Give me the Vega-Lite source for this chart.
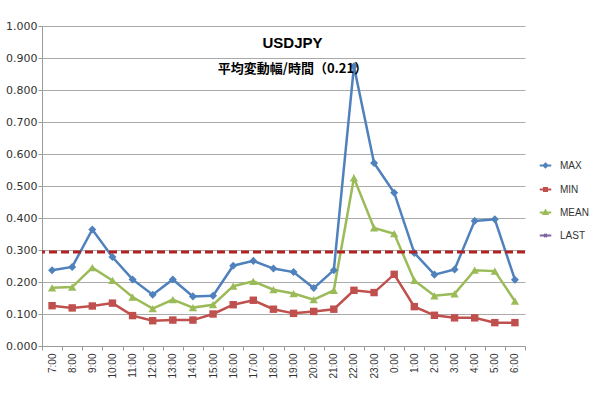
{
  "$schema": "https://vega.github.io/schema/vega-lite/v6.json",
  "width": 483,
  "height": 320,
  "autosize": "none",
  "padding": {"left": 42, "top": 26, "right": 75, "bottom": 47},
  "background": "white",
  "config": {"view": {"stroke": null}},
  "title": {
    "text": "USDJPY",
    "subtitle": "平均変動幅/時間（0.21）",
    "anchor": "middle",
    "frame": "group",
    "offset": -56,
    "dx": 9,
    "font": "Liberation Sans",
    "fontSize": 15,
    "fontWeight": "bold",
    "color": "#000000",
    "subtitleFont": "Noto Sans CJK JP",
    "subtitleFontSize": 13,
    "subtitleFontWeight": "bold",
    "subtitleColor": "#000000",
    "subtitlePadding": 12
  },
  "datasets": {
    "main": [
      {"time": "7:00", "series": "MAX", "value": 0.237},
      {"time": "8:00", "series": "MAX", "value": 0.247},
      {"time": "9:00", "series": "MAX", "value": 0.364},
      {"time": "10:00", "series": "MAX", "value": 0.278},
      {"time": "11:00", "series": "MAX", "value": 0.208},
      {"time": "12:00", "series": "MAX", "value": 0.160},
      {"time": "13:00", "series": "MAX", "value": 0.208},
      {"time": "14:00", "series": "MAX", "value": 0.155},
      {"time": "15:00", "series": "MAX", "value": 0.157},
      {"time": "16:00", "series": "MAX", "value": 0.251},
      {"time": "17:00", "series": "MAX", "value": 0.266},
      {"time": "18:00", "series": "MAX", "value": 0.242},
      {"time": "19:00", "series": "MAX", "value": 0.231},
      {"time": "20:00", "series": "MAX", "value": 0.181},
      {"time": "21:00", "series": "MAX", "value": 0.237},
      {"time": "22:00", "series": "MAX", "value": 0.874},
      {"time": "23:00", "series": "MAX", "value": 0.572},
      {"time": "0:00", "series": "MAX", "value": 0.479},
      {"time": "1:00", "series": "MAX", "value": 0.291},
      {"time": "2:00", "series": "MAX", "value": 0.223},
      {"time": "3:00", "series": "MAX", "value": 0.239},
      {"time": "4:00", "series": "MAX", "value": 0.391},
      {"time": "5:00", "series": "MAX", "value": 0.396},
      {"time": "6:00", "series": "MAX", "value": 0.207},
      {"time": "7:00", "series": "MIN", "value": 0.126},
      {"time": "8:00", "series": "MIN", "value": 0.119},
      {"time": "9:00", "series": "MIN", "value": 0.125},
      {"time": "10:00", "series": "MIN", "value": 0.134},
      {"time": "11:00", "series": "MIN", "value": 0.095},
      {"time": "12:00", "series": "MIN", "value": 0.079},
      {"time": "13:00", "series": "MIN", "value": 0.081},
      {"time": "14:00", "series": "MIN", "value": 0.081},
      {"time": "15:00", "series": "MIN", "value": 0.100},
      {"time": "16:00", "series": "MIN", "value": 0.129},
      {"time": "17:00", "series": "MIN", "value": 0.143},
      {"time": "18:00", "series": "MIN", "value": 0.115},
      {"time": "19:00", "series": "MIN", "value": 0.102},
      {"time": "20:00", "series": "MIN", "value": 0.108},
      {"time": "21:00", "series": "MIN", "value": 0.115},
      {"time": "22:00", "series": "MIN", "value": 0.174},
      {"time": "23:00", "series": "MIN", "value": 0.167},
      {"time": "0:00", "series": "MIN", "value": 0.224},
      {"time": "1:00", "series": "MIN", "value": 0.123},
      {"time": "2:00", "series": "MIN", "value": 0.096},
      {"time": "3:00", "series": "MIN", "value": 0.088},
      {"time": "4:00", "series": "MIN", "value": 0.088},
      {"time": "5:00", "series": "MIN", "value": 0.073},
      {"time": "6:00", "series": "MIN", "value": 0.073},
      {"time": "7:00", "series": "MEAN", "value": 0.182},
      {"time": "8:00", "series": "MEAN", "value": 0.184},
      {"time": "9:00", "series": "MEAN", "value": 0.245},
      {"time": "10:00", "series": "MEAN", "value": 0.205},
      {"time": "11:00", "series": "MEAN", "value": 0.153},
      {"time": "12:00", "series": "MEAN", "value": 0.117},
      {"time": "13:00", "series": "MEAN", "value": 0.145},
      {"time": "14:00", "series": "MEAN", "value": 0.120},
      {"time": "15:00", "series": "MEAN", "value": 0.129},
      {"time": "16:00", "series": "MEAN", "value": 0.187},
      {"time": "17:00", "series": "MEAN", "value": 0.202},
      {"time": "18:00", "series": "MEAN", "value": 0.176},
      {"time": "19:00", "series": "MEAN", "value": 0.164},
      {"time": "20:00", "series": "MEAN", "value": 0.145},
      {"time": "21:00", "series": "MEAN", "value": 0.174},
      {"time": "22:00", "series": "MEAN", "value": 0.525},
      {"time": "23:00", "series": "MEAN", "value": 0.369},
      {"time": "0:00", "series": "MEAN", "value": 0.351},
      {"time": "1:00", "series": "MEAN", "value": 0.205},
      {"time": "2:00", "series": "MEAN", "value": 0.157},
      {"time": "3:00", "series": "MEAN", "value": 0.163},
      {"time": "4:00", "series": "MEAN", "value": 0.237},
      {"time": "5:00", "series": "MEAN", "value": 0.234},
      {"time": "6:00", "series": "MEAN", "value": 0.140}
    ],
    "ref": [{"value": 0.294}]
  },
  "encoding": {
    "x": {
      "field": "time",
      "type": "nominal",
      "bandPosition": 0.5,
      "scale": {"type": "band", "paddingInner": 0, "paddingOuter": 0,
        "domain": ["7:00","8:00","9:00","10:00","11:00","12:00","13:00","14:00","15:00","16:00","17:00","18:00","19:00","20:00","21:00","22:00","23:00","0:00","1:00","2:00","3:00","4:00","5:00","6:00"]},
      "axis": {
        "title": null,
        "labelAngle": -90,
        "labelAlign": "right",
        "labelBaseline": "middle",
        "labelFont": "Liberation Sans",
        "labelFontSize": 10,
        "labelColor": "#333333",
        "labelPadding": 3,
        "tickBand": "extent",
        "tickSize": 4,
        "tickColor": "#9a9a9a",
        "domainColor": "#9a9a9a",
        "grid": false
      }
    },
    "y": {
      "field": "value",
      "type": "quantitative",
      "scale": {"domain": [0, 1], "nice": false},
      "axis": {
        "title": null,
        "values": [0, 0.1, 0.2, 0.3, 0.4, 0.5, 0.6, 0.7, 0.8, 0.9, 1.0],
        "format": ".3f",
        "labelFont": "DejaVu Sans",
        "labelFontSize": 11,
        "labelColor": "#333333",
        "labelPadding": 1,
        "tickSize": 4,
        "tickColor": "#9a9a9a",
        "domainColor": "#9a9a9a",
        "grid": true,
        "gridColor": "#aaaaaa",
        "gridWidth": 1
      }
    }
  },
  "layer": [
    {
      "data": {"name": "main"},
      "mark": {"type": "line", "strokeWidth": 2.5},
      "encoding": {
        "color": {
          "field": "series",
          "type": "nominal",
          "scale": {"domain": ["MAX", "MIN", "MEAN", "LAST"], "range": ["#4F81BD", "#C0504D", "#9BBB59", "#8064A2"]},
          "legend": {
            "title": null,
            "orient": "none",
            "legendX": 491,
            "legendY": 127,
            "symbolSize": 529,
            "symbolStrokeWidth": 2,
            "rowPadding": 5,
            "labelOffset": 2,
            "labelFont": "Liberation Sans",
            "labelFontSize": 10,
            "labelColor": "#333333",
            "encode": {
              "symbols": {
                "update": {
                  "shape": {"signal": "datum.value === 'MAX' ? 'M-0.5,0H0.5M0,-0.17L0.17,0L0,0.17L-0.17,0Z' : datum.value === 'MIN' ? 'M-0.5,0H0.5M-0.13,-0.13H0.13V0.13H-0.13Z' : datum.value === 'MEAN' ? 'M-0.5,0H0.5M0,-0.17L0.17,0.13H-0.17Z' : 'M-0.5,0H0.5M-0.13,-0.13L0.13,0.13M-0.13,0.13L0.13,-0.13'"},
                  "fill": {"scale": "color", "field": "value"},
                  "stroke": {"scale": "color", "field": "value"}
                }
              }
            }
          }
        }
      }
    },
    {
      "data": {"name": "main"},
      "transform": [{"filter": "datum.series === 'MAX'"}],
      "mark": {"type": "point", "shape": "diamond", "filled": true, "size": 65, "opacity": 1},
      "encoding": {"color": {"field": "series", "type": "nominal"}}
    },
    {
      "data": {"name": "main"},
      "transform": [{"filter": "datum.series === 'MIN'"}],
      "mark": {"type": "point", "shape": "square", "filled": true, "size": 55, "opacity": 1},
      "encoding": {"color": {"field": "series", "type": "nominal"}}
    },
    {
      "data": {"name": "main"},
      "transform": [{"filter": "datum.series === 'MEAN'"}],
      "mark": {"type": "point", "shape": "triangle-up", "filled": true, "size": 70, "opacity": 1},
      "encoding": {"color": {"field": "series", "type": "nominal"}}
    },
    {
      "data": {"name": "ref"},
      "mark": {"type": "rule", "color": "#B22222", "strokeWidth": 3, "strokeDash": [8, 4]},
      "encoding": {"x": null, "y": {"field": "value", "type": "quantitative"}}
    }
  ]
}
